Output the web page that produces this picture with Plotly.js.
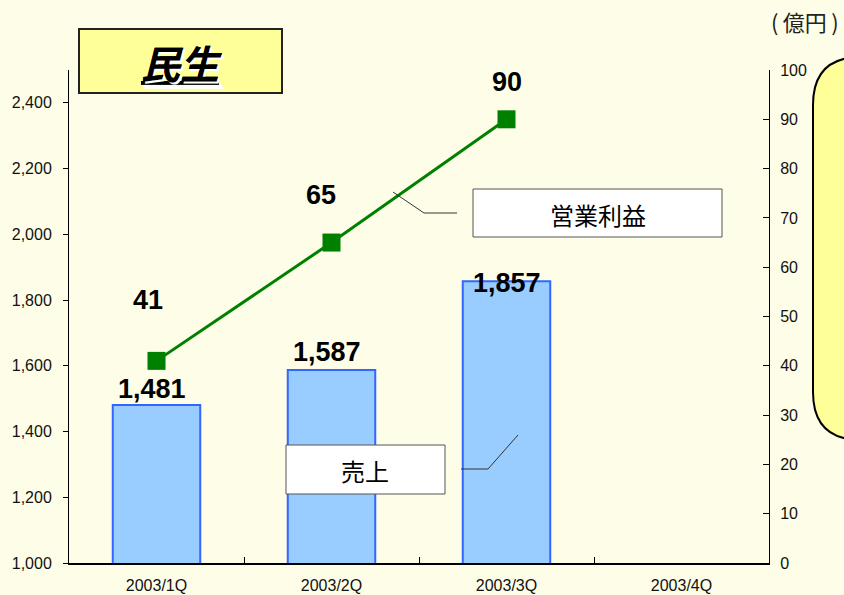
<!DOCTYPE html>
<html>
<head>
<meta charset="utf-8">
<script src="https://cdn.plot.ly/plotly-3.0.1.min.js"></script>
<style>html,body{margin:0;padding:0;background:#FEFEE8;}</style>
</head>
<body>
<div id="chart" style="width:844px;height:595px;"></div>
<script>
// ---- data ----
const categories = ["2003/1Q", "2003/2Q", "2003/3Q", "2003/4Q"];
const salesValues = [1481, 1587, 1857, null];          // 売上 (left axis)
const profitCategories = ["2003/1Q", "2003/2Q", "2003/3Q"];
const profitValues = [41, 65, 90];                       // 営業利益 (right axis)
const salesName = "売上";
const profitName = "営業利益";
const chartTitle = "民生";
const unitLabel = "(\u2009億円\u2009)";

// ---- helpers (pixel -> paper) ----
const L = 69, R = 769, T = 70, B = 563;
const px = x => (x - L) / (R - L);
const py = y => (B - y) / (B - T);

const fmt = v => v.toLocaleString("en-US");

const traces = [
  {
    type: "bar", x: categories, y: salesValues, name: salesName,
    width: 0.5,
    marker: {color: "#99CCFF", line: {color: "#3366FF", width: 2}},
    hoverinfo: "skip"
  },
  {
    type: "scatter", mode: "lines+markers", x: profitCategories, y: profitValues,
    name: profitName, yaxis: "y2",
    line: {color: "#008000", width: 3},
    marker: {symbol: "square", size: 18, color: "#008000"},
    hoverinfo: "skip"
  }
];

const labelFont = {family: "Liberation Sans, Arial, sans-serif", size: 27, color: "#000", weight: 700};
const salesShift = [[-5, 16], [-5, 18], [0, -2]];
const profitShift = [[-9, 61], [-11, 48], [0, 37]];

const annotations = [];
salesValues.forEach((v, i) => {
  if (v == null) return;
  annotations.push({x: categories[i], y: v, xref: "x", yref: "y", text: "<b>" + fmt(v) + "</b>",
    showarrow: false, font: labelFont, xshift: salesShift[i][0], yshift: salesShift[i][1],
    xanchor: "center", yanchor: "middle"});
});
profitValues.forEach((v, i) => {
  annotations.push({x: profitCategories[i], y: v, xref: "x", yref: "y2", text: "<b>" + v + "</b>",
    showarrow: false, font: labelFont, xshift: profitShift[i][0], yshift: profitShift[i][1],
    xanchor: "center", yanchor: "middle"});
});

const cjk = "Noto Sans CJK JP, sans-serif";
function paperText(x, y, text, font) {
  annotations.push({x: px(x), y: py(y), xref: "paper", yref: "paper", showarrow: false,
    xanchor: "center", yanchor: "middle", text: text, font: font});
}
// title
paperText(181, 62, "<b><i><u>" + chartTitle + "</u></i></b>",
  {family: cjk, size: 39, color: "#000", shadow: "2px 2px 0px #ffffff"});
// unit
paperText(805, 21, unitLabel, {family: cjk, size: 22, color: "#222"});
// callout labels
paperText(598, 214, profitName, {family: cjk, size: 24, color: "#000"});
paperText(365, 470, salesName, {family: cjk, size: 24, color: "#000"});

const shapes = [
  // title box
  {type: "rect", xref: "paper", yref: "paper", x0: px(79), x1: px(282), y0: py(93), y1: py(29),
   fillcolor: "#FFFF99", line: {color: "#222", width: 2}, layer: "above"},
  // profit callout box
  {type: "rect", xref: "paper", yref: "paper", x0: px(473), x1: px(722), y0: py(237), y1: py(189),
   fillcolor: "#FFFFFF", line: {color: "#555", width: 1}},
  {type: "path", xref: "paper", yref: "paper", path: `M ${px(393)} ${py(192)} L ${px(424)} ${py(213)} L ${px(457)} ${py(213)}`,
   line: {color: "#333", width: 1}},
  // sales callout box
  {type: "rect", xref: "paper", yref: "paper", x0: px(286), x1: px(445), y0: py(494), y1: py(445),
   fillcolor: "#FFFFFF", line: {color: "#555", width: 1}, layer: "above"},
  {type: "path", xref: "paper", yref: "paper", path: `M ${px(461)} ${py(469)} L ${px(488)} ${py(469)} L ${px(518)} ${py(435)}`,
   line: {color: "#333", width: 1}, layer: "above"}
];

// rounded right panel (rounded rectangle, cut off by the page edge)
(function(){
  const x0 = 813, y0 = 57, y1 = 440, r = 48, xr = 900;
  const p = `M ${px(xr)} ${py(y0)} L ${px(x0 + r)} ${py(y0)} ` +
    `Q ${px(x0)} ${py(y0)} ${px(x0)} ${py(y0 + r)} ` +
    `L ${px(x0)} ${py(y1 - r)} Q ${px(x0)} ${py(y1)} ${px(x0 + r)} ${py(y1)} L ${px(xr)} ${py(y1)}`;
  shapes.push({type: "path", xref: "paper", yref: "paper", path: p,
    fillcolor: "#FFFF99", line: {color: "#000", width: 2}, layer: "above"});
})();

const tickFont = {family: "Liberation Sans, Arial, sans-serif", size: 16, color: "#111"};

const layout = {
  width: 844, height: 595,
  margin: {l: L, r: 844 - R, t: T, b: 595 - B, pad: 0},
  paper_bgcolor: "#FEFEE8", plot_bgcolor: "#FEFEE8",
  showlegend: false,
  xaxis: {
    type: "category", categoryorder: "array", categoryarray: categories,
    range: [-0.5, 3.5], tickson: "boundaries", ticks: "inside", ticklen: 6,
    tickcolor: "#000", showline: true, linecolor: "#000", linewidth: 2,
    showgrid: false, zeroline: false, ticklabelstandoff: 7,
    tickfont: {family: "Liberation Sans, Arial, sans-serif", size: 16, color: "#111"}
  },
  yaxis: {
    range: [1000, 2500], tick0: 1000, dtick: 200, tickformat: ",d",
    ticks: "outside", ticklen: 5, tickcolor: "#000",
    showline: true, linecolor: "#000", linewidth: 1,
    showgrid: false, zeroline: false, tickfont: tickFont, ticklabelstandoff: 8
  },
  yaxis2: {
    overlaying: "y", side: "right", range: [0, 100], tick0: 0, dtick: 10,
    ticks: "inside", ticklen: 6, tickcolor: "#000",
    showline: true, linecolor: "#000", linewidth: 1,
    showgrid: false, zeroline: false, tickfont: tickFont, ticklabelstandoff: 7
  },
  shapes: shapes,
  annotations: annotations
};

Plotly.newPlot("chart", traces, layout, {staticPlot: true, displayModeBar: false});
</script>
</body>
</html>
